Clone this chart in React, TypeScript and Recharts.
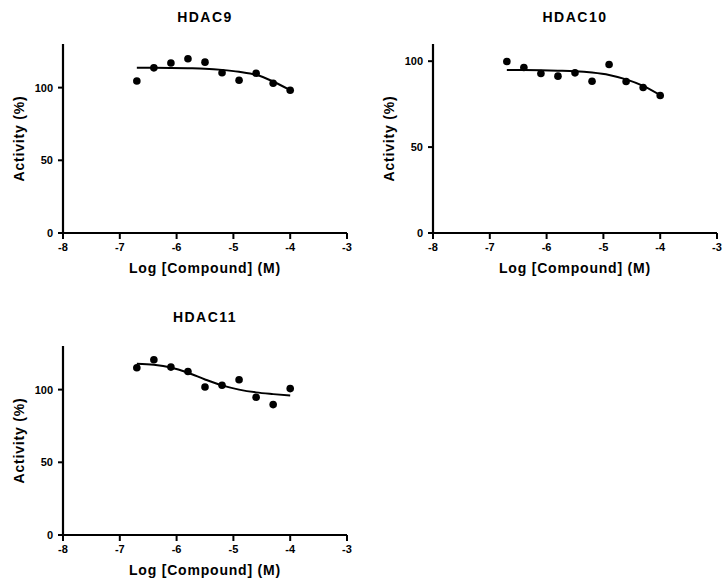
import { ComposedChart, Line, Scatter, XAxis, YAxis, Label } from 'recharts'

// log concentration of each dilution (M)
const logConc = [-6.7, -6.4, -6.1, -5.8, -5.5, -5.2, -4.9, -4.6, -4.3, -4.0]
const xTicks = [-8, -7, -6, -5, -4, -3]
const yTicks = [0, 50, 100]

// measured activity (%)
const hdac9Points = [104.6, 113.6, 116.9, 119.9, 117.5, 110.2, 105.1, 109.9, 103.0, 98.2]
const hdac10Points = [99.8, 96.3, 92.8, 91.3, 93.2, 88.3, 98.1, 88.2, 84.7, 80.0]
const hdac11Points = [115.0, 120.5, 115.5, 112.5, 101.8, 103.0, 106.8, 94.8, 89.7, 100.7]

// fitted curve at the same concentrations
const hdac9Fit = [113.6, 113.6, 113.5, 113.3, 113.0, 112.2, 110.9, 108.8, 104.2, 98.2]
const hdac10Fit = [94.8, 94.8, 94.7, 94.5, 94.2, 93.4, 92.0, 89.4, 85.6, 80.2]
const hdac11Fit = [117.8, 117.1, 115.2, 111.6, 107.0, 102.9, 100.0, 98.1, 96.9, 95.9]

const FONT = 'Arial, "Liberation Sans", sans-serif'
const W = 370
const H = 290
const PLOT_H = 189
const X_AXIS_H = 40

const tickStyle = { fill: '#000', fontSize: 11, fontWeight: 'bold', fontFamily: FONT }
const axisLine = { stroke: '#000', strokeWidth: 2.2 }
const tickLine = { stroke: '#000', strokeWidth: 2 }

function Dot(props: any) {
  return <circle cx={props.cx} cy={props.cy} r={3.8} fill="#000" />
}

function Panel({ title, points, fit, yMax, left, top, plotTop }: any) {
  const pts = logConc.map((x, i) => ({ x, y: points[i] }))
  const curve = logConc.map((x, i) => ({ x, y: fit[i] }))
  return (
    <div style={{ position: 'absolute', left, top, width: W, height: H }}>
      <div
        style={{
          position: 'absolute',
          left: 63,
          width: 284,
          top: 9,
          textAlign: 'center',
          fontFamily: FONT,
          fontWeight: 'bold',
          fontSize: 14,
          lineHeight: '16px',
          letterSpacing: 1.5,
          color: '#000',
        }}
      >
        {title}
      </div>
      <ComposedChart
        width={W}
        height={H}
        margin={{ top: plotTop, right: 23, bottom: H - plotTop - PLOT_H - X_AXIS_H, left: 0 }}
      >
        <XAxis
          dataKey="x"
          type="number"
          domain={[-8, -3]}
          ticks={xTicks}
          height={X_AXIS_H}
          tick={tickStyle}
          tickSize={6}
          tickMargin={4}
          stroke="#000"
          strokeWidth={2.2}
          axisLine={axisLine}
          tickLine={tickLine}
        >
          <Label
            value="Log [Compound] (M)"
            position="insideBottom"
            offset={0}
            fill="#000"
            fontSize={14}
            fontWeight="bold"
            fontFamily={FONT}
            letterSpacing={0.8}
          />
        </XAxis>
        <YAxis
          dataKey="y"
          type="number"
          domain={[0, yMax]}
          ticks={yTicks}
          width={63}
          tick={tickStyle}
          tickSize={5}
          tickMargin={5}
          stroke="#000"
          strokeWidth={2.2}
          axisLine={axisLine}
          tickLine={tickLine}
          allowDataOverflow
        >
          <Label
            value="Activity (%)"
            angle={-90}
            position="insideLeft"
            offset={19}
            fill="#000"
            fontSize={14}
            fontWeight="bold"
            fontFamily={FONT}
            letterSpacing={0.8}
            style={{ textAnchor: 'middle' }}
          />
        </YAxis>
        <Line
          data={curve}
          dataKey="y"
          type="monotone"
          stroke="#000"
          strokeWidth={2}
          dot={false}
          activeDot={false}
          isAnimationActive={false}
        />
        <Scatter data={pts} dataKey="y" fill="#000" shape={<Dot />} isAnimationActive={false} />
      </ComposedChart>
    </div>
  )
}

export default function App() {
  return (
    <div style={{ position: 'absolute', left: 0, top: 0, width: 726, height: 584, background: '#fff' }}>
      <Panel title="HDAC9" points={hdac9Points} fit={hdac9Fit} yMax={130} left={0} top={0} plotTop={44} />
      <Panel title="HDAC10" points={hdac10Points} fit={hdac10Fit} yMax={110} left={370} top={0} plotTop={44} />
      <Panel title="HDAC11" points={hdac11Points} fit={hdac11Fit} yMax={130} left={0} top={300} plotTop={46} />
    </div>
  )
}
